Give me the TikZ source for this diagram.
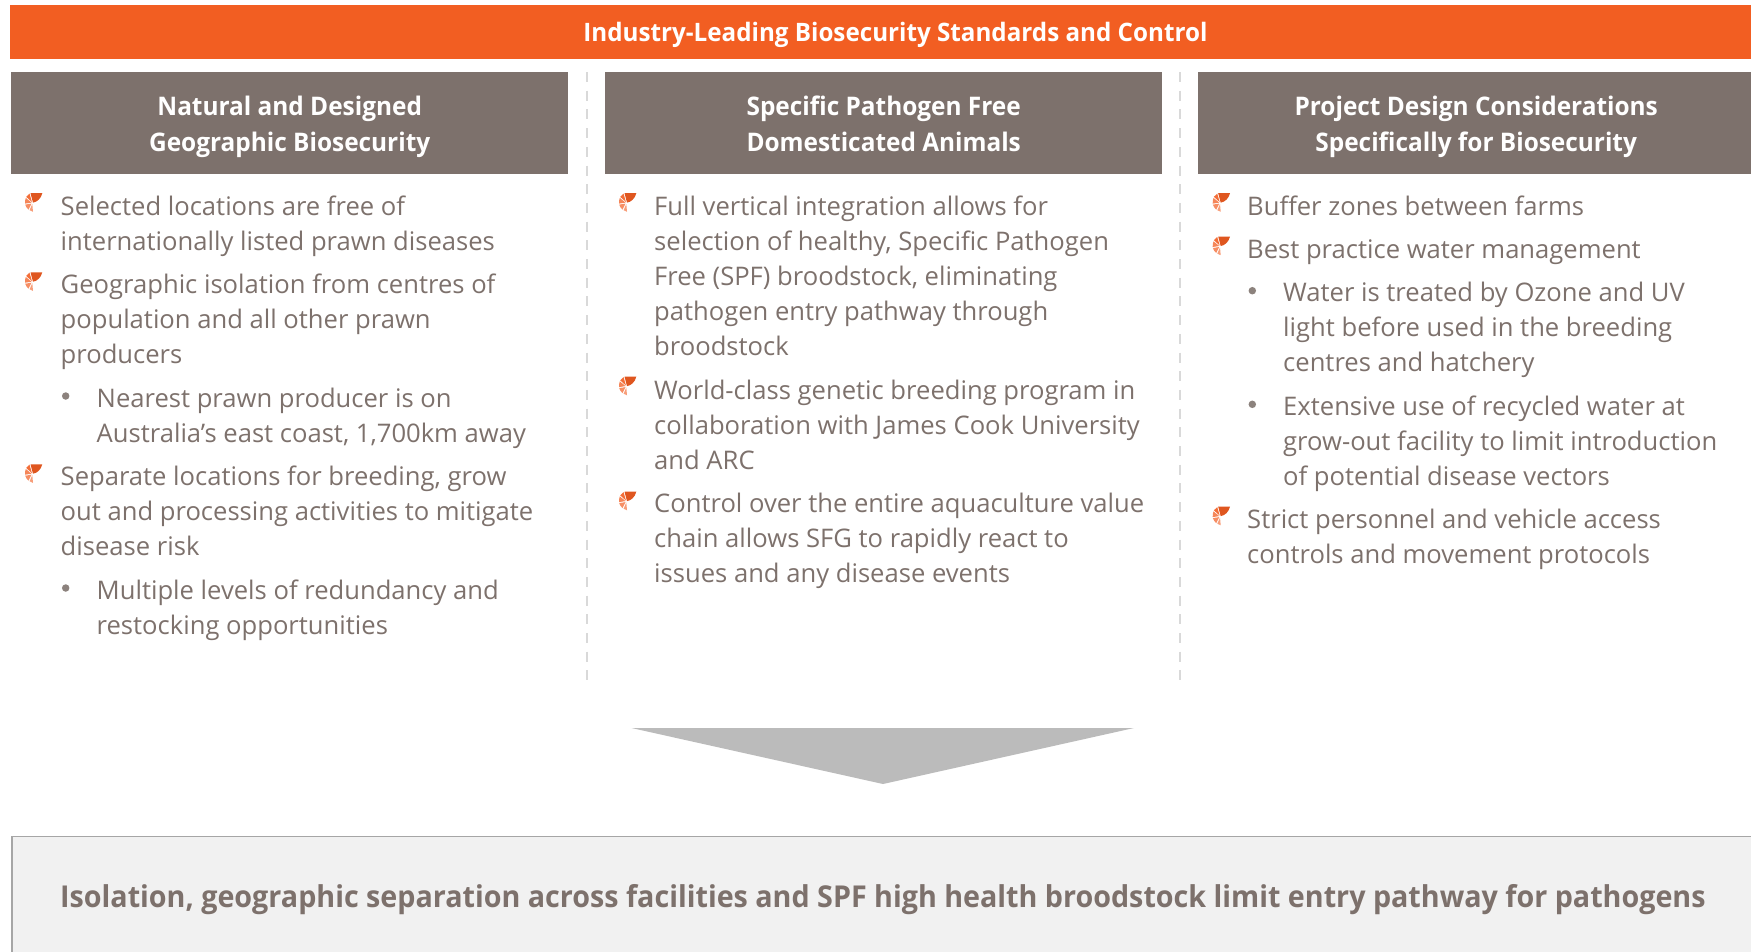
\documentclass[tikz,border=0pt]{standalone}
\usepackage{fontspec}
\setmainfont[BoldFeatures={FakeStretch=0.953}]{Open Sans}
\definecolor{barorange}{HTML}{F25E22}
\definecolor{headbrown}{HTML}{7D716C}
\definecolor{bodygrey}{HTML}{7D716C}
\definecolor{dotgrey}{HTML}{8C827D}
\definecolor{dashgrey}{HTML}{D9D9D9}
\definecolor{arrowgrey}{HTML}{BBBBBB}
\definecolor{boxfill}{HTML}{F1F1F1}
\definecolor{boxline}{HTML}{A6A6A6}
\tikzset{
  x=1pt,y=-1pt,
  headbox/.style={fill=headbrown,text=white,inner sep=0pt,minimum width=557pt,minimum height=102pt,align=center,
    font=\fontsize{25.6}{36}\selectfont\bfseries},
  para/.style={anchor=north west,inner sep=0pt,align=left,text=bodygrey,font=\fontsize{25.6}{35}\selectfont},
  colrule/.style={dashgrey,line width=2pt,dash pattern=on 10pt off 8.7pt},
  subdot/.style={circle,fill=dotgrey,inner sep=0pt,minimum size=7.5pt},
  prawn/.pic={
    \fill[barorange!92!black] (8,10) -- (5.5,0.6) -- (17.3,0.6) .. controls (16,6) and (12,9.5) .. cycle;
    \fill[barorange!90!white] (7,9.5) -- (4.5,1) .. controls (3,1.8) and (2,2.8) .. (1.2,4.2) -- cycle;
    \fill[barorange!75!white] (6.5,10) -- (0.8,5.3) .. controls (0.1,7) and (-0.1,9) .. (0,11) -- cycle;
    \fill[barorange!70!white] (6.5,11) -- (0.2,12) .. controls (0.8,14) and (2,15.8) .. (3.5,17) -- cycle;
    \fill[barorange!60!white] (7.3,11.5) -- (4.6,17.6) .. controls (5.5,18.4) and (6.8,19) .. (8,19.2) -- cycle;
  }
}
\newcommand{\first}[1]{\rule{0pt}{24.5pt}#1}
\begin{document}
\begin{tikzpicture}
\useasboundingbox (0,0) rectangle (1751,951);
% top bar
\node[fill=barorange,text=white,inner sep=0pt,minimum width=1741pt,minimum height=54pt,anchor=north west,
  font=\fontsize{25.4}{30}\selectfont\bfseries] (bar) at (10,5) {\raisebox{-8.9pt}[10pt][10pt]{\hspace*{29.5pt}Industry-Leading Biosecurity Standards and Control}};
% column headers
\node[headbox,anchor=north west] (h1) at (11,72) {\rule{0pt}{30.6pt}Natural and Designed\\Geographic Biosecurity\strut};
\node[headbox,anchor=north west] (h2) at (605,72) {\rule{0pt}{30.6pt}Specific Pathogen Free\\Domesticated Animals\strut};
\node[headbox,anchor=north west,minimum width=556pt] (h3) at (1198,72) {\rule{0pt}{30.6pt}Project Design Considerations\\Specifically for Biosecurity\strut};
% dashed rules
\coordinate (r1a) at (586.5,72); \coordinate (r1b) at (586.5,680);
\coordinate (r2a) at (1179.5,72); \coordinate (r2b) at (1179.5,680);
\draw[colrule] (r1a) -- (r1b);
\draw[colrule] (r2a) -- (r2b);
% column 1
\pic at (25,192.6) {prawn};
\node[para] (a1) at (60.5,190.9) {\first{Selected locations are free of}\\internationally listed prawn diseases};
\pic at (25,271.7) {prawn};
\node[para] (a2) at (60.5,268.4) {\first{Geographic isolation from centres of}\\population and all other prawn\\producers};
\node[subdot] (a3d) at (65.7,396) {};
\node[para] (a3) at (96.5,383) {\first{Nearest prawn producer is on}\\Australia’s east coast, 1,700km away};
\pic at (25,463.7) {prawn};
\node[para] (a4) at (60.5,461) {\first{Separate locations for breeding, grow}\\out and processing activities to mitigate\\disease risk};
\node[subdot] (a5d) at (65.7,588) {};
\node[para] (a5) at (96.5,575) {\first{Multiple levels of redundancy and}\\restocking opportunities};
% column 2
\pic at (619,192.6) {prawn};
\node[para] (b1) at (654,190.9) {\first{Full vertical integration allows for}\\selection of healthy, Specific Pathogen\\Free (SPF) broodstock, eliminating\\pathogen entry pathway through\\broodstock};
\pic at (619,376.1) {prawn};
\node[para] (b2) at (654,375) {\first{World-class genetic breeding program in}\\collaboration with James Cook University\\and ARC};
\pic at (619,491.1) {prawn};
\node[para] (b3) at (654,488.2) {\first{Control over the entire aquaculture value}\\chain allows SFG to rapidly react to\\issues and any disease events};
% column 3
\pic at (1212.7,192.6) {prawn};
\node[para] (c1) at (1247,190.9) {\first{Buffer zones between farms}};
\pic at (1212.7,236) {prawn};
\node[para] (c2) at (1247,233.4) {\first{Best practice water management}};
\node[subdot] (c3d) at (1252.3,290.7) {};
\node[para] (c3) at (1283,276.9) {\first{Water is treated by Ozone and UV}\\light before used in the breeding\\centres and hatchery};
\node[subdot] (c4d) at (1252.3,404.3) {};
\node[para] (c4) at (1283,390.8) {\first{Extensive use of recycled water at}\\grow-out facility to limit introduction\\of potential disease vectors};
\pic at (1212.7,506.1) {prawn};
\node[para] (c5) at (1247,503.6) {\first{Strict personnel and vehicle access}\\controls and movement protocols};
% arrow
\fill[arrowgrey] (631.5,728) -- (1134,728) -- (883,784) -- cycle;
% bottom box
\node[draw=boxline,fill=boxfill,line width=1.5pt,anchor=north west,minimum width=1800pt,minimum height=200pt,inner sep=0pt] (bot) at (11,835.5) {};
\node[anchor=base west,inner sep=0pt,text=bodygrey,font=\fontsize{30.1}{35}\selectfont\bfseries] (bott) at (60,907) {Isolation, geographic separation across facilities and SPF high health broodstock limit entry pathway for pathogens};
\end{tikzpicture}
\end{document}
